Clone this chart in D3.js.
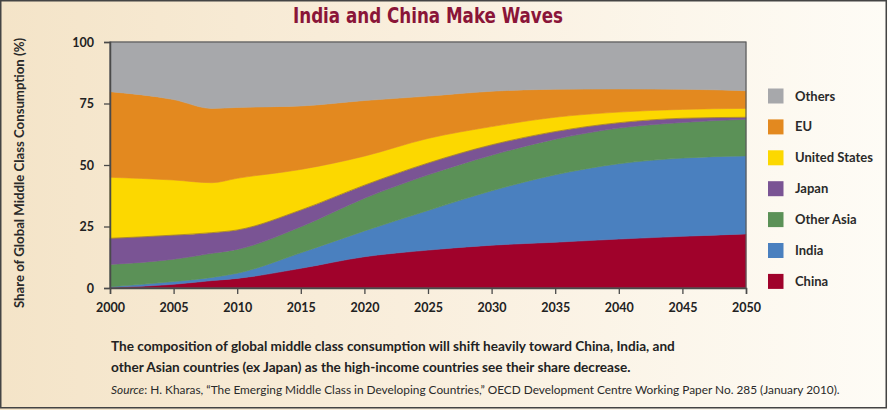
<!DOCTYPE html>
<html>
<head>
<meta charset="utf-8">
<script src="https://cdn.jsdelivr.net/npm/d3@7"></script>
<style>
  html, body { margin: 0; padding: 0; background: #fff; }
  svg { display: block; }
</style>
</head>
<body>
<svg id="chart" width="888" height="410"></svg>
<script>
// ---- Data ----
const years      = [2000, 2005, 2008, 2010, 2015, 2020, 2025, 2030, 2035, 2040, 2045, 2050];
const china      = [0.2, 1.5, 3.0, 3.9, 8.0, 12.7, 15.4, 17.4, 18.6, 19.9, 21.0, 22.0];
const india      = [0.3, 1.1, 1.3, 2.1, 6.3, 10.5, 16.1, 22.1, 27.4, 30.6, 31.8, 31.7];
const otherAsia  = [9.1, 9.1, 9.8, 9.7, 10.6, 13.3, 14.5, 14.5, 14.5, 14.5, 14.5, 14.9];
const japan      = [10.6, 9.8, 8.4, 7.9, 6.8, 5.3, 4.8, 4.2, 3.1, 2.2, 1.7, 0.8];
const us         = [24.8, 22.4, 20.3, 21.0, 16.5, 11.8, 10.0, 7.4, 5.8, 4.3, 3.6, 3.6];
const eu         = [34.8, 32.7, 30.2, 28.8, 25.8, 22.6, 17.2, 14.4, 11.4, 9.4, 8.2, 7.2];
const others     = [20.2, 23.4, 27.0, 26.6, 26.0, 23.8, 22.0, 20.0, 19.2, 19.1, 19.2, 19.8];

const seriesNames = ["China", "India", "Other Asia", "Japan", "United States", "EU", "Others"];
const seriesKeys  = ["china", "india", "otherAsia", "japan", "us", "eu", "others"];
const seriesVals  = [china, india, otherAsia, japan, us, eu, others];
const seriesColors = ["#a0022b", "#4a80bf", "#5b9157", "#7a5494", "#fcd800", "#e3891f", "#a7a8ab"];

const xTicks = [2000, 2005, 2010, 2015, 2020, 2025, 2030, 2035, 2040, 2045, 2050];
const yTicks = [0, 25, 50, 75, 100];

const titleText = "India and China Make Waves";
const yLabel = "Share of Global Middle Class Consumption (%)";
const caption1 = "The composition of global middle class consumption will shift heavily toward China, India, and";
const caption2 = "other Asian countries (ex Japan) as the high-income countries see their share decrease.";
const sourceRest = ": H. Kharas, \u201CThe Emerging Middle Class in Developing Countries,\u201D OECD Development Centre Working Paper No. 285 (January 2010).";

// ---- Build table ----
const table = years.map((yr, i) => {
  const row = { year: yr };
  seriesKeys.forEach((k, j) => row[k] = seriesVals[j][i]);
  return row;
});

const svg = d3.select("#chart");
const W = 888, H = 410;
const margin = { left: 110, right: 142, top: 42, bottom: 122 };

// background gradient
const defs = svg.append("defs");
const grad = defs.append("linearGradient").attr("id", "bg").attr("x1", "0").attr("x2", "1").attr("y1", "0").attr("y2", "0");
grad.append("stop").attr("offset", "0").attr("stop-color", "#f4e4c8");
grad.append("stop").attr("offset", "0.45").attr("stop-color", "#f9eedc");
grad.append("stop").attr("offset", "1").attr("stop-color", "#fefcf6");
svg.append("rect").attr("x", 0).attr("y", 0).attr("width", W).attr("height", H).attr("fill", "url(#bg)");
svg.append("rect").attr("x", 0.75).attr("y", 0.75).attr("width", W - 2.5).attr("height", H - 3)
  .attr("fill", "none").attr("stroke", "#444").attr("stroke-width", 1.5);

const x = d3.scaleLinear().domain([2000, 2050]).range([margin.left, W - margin.right]);
const y = d3.scaleLinear().domain([0, 100]).range([H - margin.bottom, margin.top]);

const stack = d3.stack().keys(seriesKeys);
const layers = stack(table);

const area = d3.area()
  .x(d => x(d.data.year))
  .y0(d => y(d[0]))
  .y1(d => y(d[1]))
  .curve(d3.curveMonotoneX);

svg.append("g").selectAll("path").data(layers).join("path")
  .attr("d", area)
  .attr("fill", (d, i) => seriesColors[i])
  .attr("stroke", (d, i) => seriesColors[i])
  .attr("stroke-width", 0.6);

// subtle boundary line between US and Japan
const line = d3.line().x(d => x(d.data.year)).y(d => y(d[1])).curve(d3.curveMonotoneX);
svg.append("path").datum(layers[3]).attr("d", line)
  .attr("fill", "none").attr("stroke", "#6b4a3a").attr("stroke-width", 0.8).attr("opacity", 0.6);

// plot frame
svg.append("rect")
  .attr("x", x(2000)).attr("y", y(100))
  .attr("width", x(2050) - x(2000)).attr("height", y(0) - y(100))
  .attr("fill", "none").attr("stroke", "#5a5a5a").attr("stroke-width", 1.2);

// axes
const tickFont = "Lato, 'Open Sans', sans-serif";
const xAxis = svg.append("g").attr("transform", `translate(0,${y(0)})`)
  .call(d3.axisBottom(x).tickValues(xTicks).tickFormat(d3.format("d")).tickSize(6).tickPadding(6));
const yAxis = svg.append("g").attr("transform", `translate(${x(2000)},0)`)
  .call(d3.axisLeft(y).tickValues(yTicks).tickSize(6).tickPadding(10));
[xAxis, yAxis].forEach(g => {
  g.select(".domain").attr("stroke", "#4a4a4a").attr("stroke-width", 1.5);
  g.selectAll(".tick line").attr("stroke", "#4a4a4a").attr("stroke-width", 1.3);
  g.selectAll(".tick text").attr("fill", "#222").attr("font-family", tickFont)
    .attr("font-weight", 700).attr("font-size", 12.5);
});
xAxis.selectAll(".tick text").attr("dy", "0.95em");

// y label
svg.append("text")
  .attr("transform", `translate(24,173) rotate(-90)`)
  .attr("text-anchor", "middle")
  .attr("font-family", tickFont).attr("font-weight", 700).attr("font-size", 13.2)
  .attr("fill", "#2a2a2a").text(yLabel);

// title
svg.append("text")
  .attr("x", 428).attr("y", 23).attr("text-anchor", "middle")
  .attr("font-family", "'Liberation Sans Narrow', 'DejaVu Sans Condensed', sans-serif")
  .attr("font-weight", 700).attr("font-size", 21).attr("fill", "#8a1538")
  .attr("textLength", 270).attr("lengthAdjust", "spacingAndGlyphs")
  .text(titleText);

// legend (top to bottom: Others ... China)
const legendOrder = d3.range(seriesNames.length).reverse();
const lg = svg.append("g");
legendOrder.forEach((idx, r) => {
  const cy = 96 + r * 30.9;
  lg.append("rect").attr("x", 768).attr("y", cy - 7.5).attr("width", 15.5).attr("height", 15)
    .attr("fill", seriesColors[idx]);
  lg.append("text").attr("x", 795).attr("y", cy + 4.5)
    .attr("font-family", tickFont).attr("font-weight", 700).attr("font-size", 13)
    .attr("fill", "#2a2a2a").text(seriesNames[idx]);
});

// caption
svg.append("text").attr("x", 111).attr("y", 351)
  .attr("font-family", tickFont).attr("font-weight", 700).attr("font-size", 13.6)
  .attr("fill", "#222").text(caption1);
svg.append("text").attr("x", 111).attr("y", 372)
  .attr("font-family", tickFont).attr("font-weight", 700).attr("font-size", 13.6)
  .attr("fill", "#222").text(caption2);
const src = svg.append("text").attr("x", 111).attr("y", 394)
  .attr("font-family", tickFont).attr("font-size", 11.85).attr("fill", "#2a2a2a");
src.append("tspan").attr("font-style", "italic").text("Source");
src.append("tspan").text(sourceRest);
</script>
</body>
</html>
